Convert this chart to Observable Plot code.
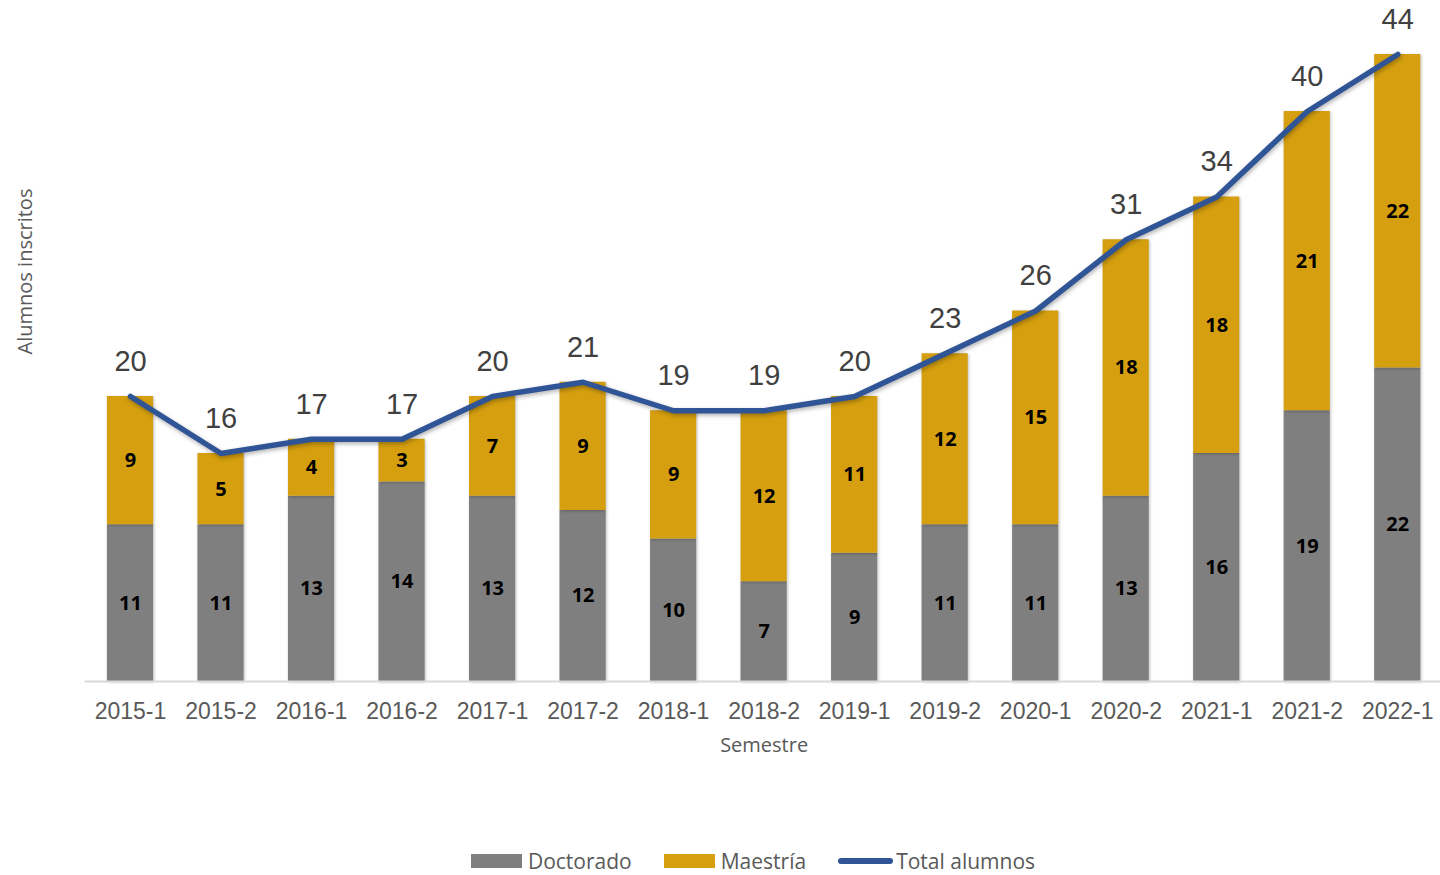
<!DOCTYPE html>
<html>
<head>
<meta charset="utf-8">
<script src="https://cdn.jsdelivr.net/npm/d3@7"></script>
<script src="https://cdn.jsdelivr.net/npm/@observablehq/plot@0.6"></script>
<style>
  html, body { margin: 0; padding: 0; background: #fff; }
  #chart svg { display: block; overflow: visible; }
  g[aria-label="bar"] rect { filter: drop-shadow(1px 1px 1.5px rgba(0,0,0,0.25)); }
  g[aria-label="line"] path { filter: drop-shadow(1px 2px 2px rgba(0,0,0,0.3)); }
  #legend {
    display: flex; justify-content: center; align-items: center;
    height: 55px; box-sizing: border-box; padding-top: 27px; padding-left: 66px;
    font-family: "Open Sans", sans-serif; font-size: 21px; color: #595959;
  }
  .item { display: flex; align-items: center; margin: 0 16px; }
  .sw { display: inline-block; width: 51px; height: 14px; margin-right: 6px; }
  .ln { display: inline-block; width: 55px; height: 6px; border-radius: 3px; background: #2F5597; margin-right: 3px; }
</style>
</head>
<body>
<div id="chart"></div>
<div id="legend">
  <div class="item"><span class="sw" style="background:#7F7F7F"></span>Doctorado</div>
  <div class="item"><span class="sw" style="background:#D59F0F"></span>Maestría</div>
  <div class="item"><span class="ln"></span>Total alumnos</div>
</div>
<script>
const semestres = ["2015-1","2015-2","2016-1","2016-2","2017-1","2017-2","2018-1","2018-2","2019-1","2019-2","2020-1","2020-2","2021-1","2021-2","2022-1"];
const doctorado = [11, 11, 13, 14, 13, 12, 10, 7, 9, 11, 11, 13, 16, 19, 22];
const maestria  = [9, 5, 4, 3, 7, 9, 9, 12, 11, 12, 15, 18, 18, 21, 22];
const totales   = [20, 16, 17, 17, 20, 21, 19, 19, 20, 23, 26, 31, 34, 40, 44];
const series = ["Doctorado", "Maestría"];
const colores = ["#7F7F7F", "#D59F0F"];

const rows = semestres.flatMap((s, i) => [
  {semestre: s, tipo: "Doctorado", valor: doctorado[i]},
  {semestre: s, tipo: "Maestría", valor: maestria[i]}
]);
const totalRows = semestres.map((s, i) => ({semestre: s, total: totales[i]}));

const chart = Plot.plot({
  width: 1440,
  height: 820,
  marginLeft: 84.75,
  marginRight: -2.5,
  marginTop: 54,
  marginBottom: 139,
  style: {fontFamily: "'Liberation Sans', Arial, sans-serif", background: "#fff", overflow: "visible"},
  x: {domain: semestres, paddingInner: 0.49, paddingOuter: 0.245, round: false, label: null},
  y: {domain: [0, 44], axis: null},
  color: {domain: series, range: colores},
  marks: [
    Plot.barY(rows, {x: "semestre", y: "valor", fill: "tipo"}),
    Plot.ruleY([0], {stroke: "#D9D9D9", strokeWidth: 2}),
    Plot.text(rows, Plot.stackY({x: "semestre", y: "valor", z: "tipo", text: "valor",
      fill: "#000", fontWeight: "bold", fontSize: 20, fontFamily: "'Open Sans', sans-serif"})),
    Plot.line(totalRows, {x: "semestre", y: "total", stroke: "#2F5597", strokeWidth: 5.5,
      strokeLinecap: "round", strokeLinejoin: "round"}),
    Plot.text(totalRows, {x: "semestre", y: "total", text: "total", dy: -35,
      fontSize: 29, fill: "#404040"}),
    Plot.axisX({tickSize: 0, tickPadding: 21, fontSize: 23, fill: "#595959", label: null}),
    Plot.text(["Semestre"], {frameAnchor: "bottom", dy: 64, lineAnchor: "middle", fontSize: 20,
      fill: "#595959", fontFamily: "'Open Sans', sans-serif"}),
    Plot.text(["Alumnos inscritos"], {frameAnchor: "top-left", dx: -60, dy: 217, rotate: -90,
      textAnchor: "middle", lineAnchor: "middle",
      fontSize: 20, fill: "#595959", fontFamily: "'Open Sans', sans-serif"})
  ]
});
document.getElementById("chart").appendChild(chart);
</script>
</body>
</html>
